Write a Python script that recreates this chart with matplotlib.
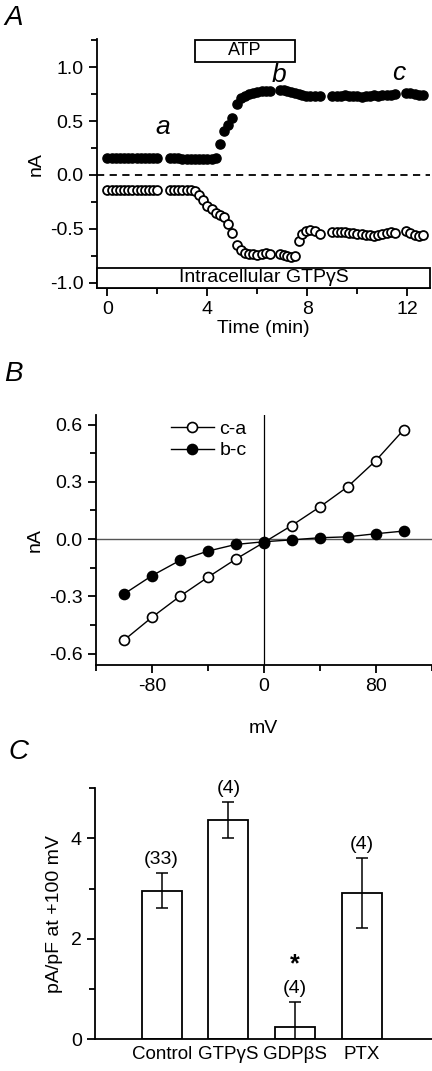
import matplotlib.pyplot as plt
from matplotlib.patches import Rectangle
from matplotlib.ticker import MultipleLocator

plt.rcParams['font.family'] = ['Liberation Sans', 'DejaVu Sans']
plt.rcParams['font.size'] = 14
plt.rcParams['axes.unicode_minus'] = False

# ---- panel A: time course (min), filled = outward, open = inward current (nA)
t_min = [0.0, 0.17, 0.33, 0.5, 0.67, 0.83, 1.0, 1.17, 1.33, 1.5, 1.67, 1.83, 2.0,
         2.5, 2.67, 2.83, 3.0, 3.17, 3.33, 3.5, 3.67, 3.83, 4.0, 4.17, 4.33,
         4.5, 4.67, 4.83, 5.0, 5.17, 5.33, 5.5, 5.67, 5.83, 6.0, 6.17, 6.33, 6.5,
         6.9, 7.05, 7.2, 7.35, 7.5, 7.65, 7.8, 7.95, 8.1, 8.3, 8.5,
         9.0, 9.17, 9.33, 9.5, 9.67, 9.83, 10.0, 10.17, 10.33, 10.5, 10.67, 10.83,
         11.0, 11.17, 11.33, 11.5,
         11.95, 12.12, 12.29, 12.46, 12.63]
i_out = [0.16, 0.16, 0.16, 0.16, 0.16, 0.16, 0.16, 0.16, 0.16, 0.16, 0.16, 0.16, 0.16,
         0.16, 0.16, 0.16, 0.15, 0.15, 0.15, 0.15, 0.15, 0.15, 0.15, 0.15, 0.16,
         0.29, 0.41, 0.46, 0.53, 0.66, 0.71, 0.73, 0.75, 0.76, 0.77, 0.78, 0.78, 0.78,
         0.79, 0.79, 0.78, 0.77, 0.76, 0.75, 0.74, 0.73, 0.73, 0.73, 0.73,
         0.73, 0.73, 0.73, 0.74, 0.73, 0.73, 0.73, 0.72, 0.73, 0.73, 0.74, 0.73,
         0.74, 0.74, 0.74, 0.75,
         0.76, 0.76, 0.75, 0.74, 0.74]
i_in = [-0.14, -0.14, -0.14, -0.14, -0.14, -0.14, -0.14, -0.14, -0.14, -0.14, -0.14, -0.14, -0.14,
        -0.14, -0.14, -0.14, -0.14, -0.14, -0.14, -0.15, -0.19, -0.23, -0.29, -0.32, -0.35,
        -0.37, -0.39, -0.46, -0.54, -0.65, -0.70, -0.72, -0.73, -0.73, -0.74, -0.73, -0.72, -0.73,
        -0.73, -0.74, -0.75, -0.76, -0.75, -0.61, -0.55, -0.52, -0.51, -0.52, -0.55,
        -0.53, -0.53, -0.53, -0.53, -0.54, -0.54, -0.55, -0.55, -0.56, -0.56, -0.57, -0.56,
        -0.55, -0.54, -0.53, -0.54,
        -0.52, -0.54, -0.56, -0.57, -0.56]

# ---- panel B: I-V difference curves
mv = [-100, -80, -60, -40, -20, 0, 20, 40, 60, 80, 100]
c_minus_a = [-0.53, -0.41, -0.30, -0.20, -0.105, -0.018, 0.071, 0.168, 0.274, 0.41, 0.572]
b_minus_c = [-0.288, -0.192, -0.112, -0.063, -0.028, -0.014, -0.004, 0.007, 0.012, 0.028, 0.042]

# ---- panel C: current density at +100 mV
groups = ['Control', 'GTP\u03b3S', 'GDP\u03b2S', 'PTX']
density = [2.96, 4.36, 0.25, 2.91]
sem = [0.35, 0.36, 0.50, 0.70]
n_cells = ['(33)', '(4)', '(4)', '(4)']

fig = plt.figure(figsize=(4.32, 10.71), dpi=100)


def style(ax):
    for s in ['top', 'right']:
        ax.spines[s].set_visible(False)
    for s in ['left', 'bottom']:
        ax.spines[s].set_linewidth(1.3)
    ax.tick_params(which='major', direction='out', length=6, width=1.3, labelsize=14)
    ax.tick_params(which='minor', direction='out', length=4, width=1.3)


# Panel A
axA = fig.add_axes([0.224, 0.731, 0.772, 0.2325])
style(axA)
axA.plot(t_min, i_out, 'o', ms=6.6, mfc='black', mec='black', mew=1.0, zorder=3)
axA.plot(t_min, i_in, 'o', ms=6.4, mfc='white', mec='black', mew=1.3, zorder=3)
axA.axhline(0, color='black', ls=(0, (4, 3)), lw=1.3)
axA.set_xlim(-0.42, 12.92)
axA.set_ylim(-1.05, 1.26)
axA.xaxis.set_major_locator(MultipleLocator(4))
axA.xaxis.set_minor_locator(MultipleLocator(2))
axA.yaxis.set_minor_locator(MultipleLocator(0.25))
axA.set_yticks([-1.0, -0.5, 0.0, 0.5, 1.0])
axA.set_yticklabels(['-1.0', '-0.5', '0.0', '0.5', '1.0'])
axA.set_xlabel('Time (min)', fontsize=14, labelpad=1)
axA.set_ylabel('nA', fontsize=14, labelpad=4)
axA.add_patch(Rectangle((3.5, 1.05), 4.0, 0.2, facecolor='white', edgecolor='black',
                        lw=1.3, zorder=4, clip_on=False))
axA.text(5.5, 1.15, 'ATP', ha='center', va='center', fontsize=13, zorder=5)
axA.add_patch(Rectangle((-0.42, -1.05), 13.34, 0.19, facecolor='white', edgecolor='black',
                        lw=1.3, zorder=4, clip_on=False))
axA.text(6.25, -0.955, 'Intracellular GTP\u03b3S', ha='center', va='center', fontsize=14, zorder=5)
axA.text(2.2, 0.44, 'a', style='italic', fontsize=19, ha='center', va='center')
axA.text(6.85, 0.93, 'b', style='italic', fontsize=19, ha='center', va='center')
axA.text(11.65, 0.95, 'c', style='italic', fontsize=19, ha='center', va='center')
fig.text(0.01, 0.983, 'A', style='italic', fontsize=20, va='center')

# Panel B
axB = fig.add_axes([0.222, 0.379, 0.777, 0.2335])
style(axB)
axB.axhline(0, color='#555555', lw=1.0, zorder=1)
axB.axvline(0, color='black', lw=0.9, zorder=1)
axB.plot(mv, c_minus_a, '-o', color='black', lw=1.0, ms=7.2, mfc='white', mec='black',
         mew=1.2, label='c-a', zorder=3)
axB.plot(mv, b_minus_c, '-o', color='black', lw=1.0, ms=7.2, mfc='black', mec='black',
         mew=1.2, label='b-c', zorder=3)
axB.set_xlim(-120, 120)
axB.set_ylim(-0.66, 0.65)
axB.xaxis.set_major_locator(MultipleLocator(80))
axB.xaxis.set_minor_locator(MultipleLocator(40))
axB.set_yticks([-0.6, -0.3, 0.0, 0.3, 0.6])
axB.yaxis.set_minor_locator(MultipleLocator(0.15))
axB.set_xlabel('mV', fontsize=14, labelpad=18)
axB.set_ylabel('nA', fontsize=14, labelpad=4)
axB.legend(loc='upper left', bbox_to_anchor=(0.2, 1.01), frameon=False, fontsize=14,
           handlelength=2.2, handletextpad=0.3, labelspacing=0.2, borderaxespad=0.0)
fig.text(0.01, 0.651, 'B', style='italic', fontsize=20, va='center')

# Panel C
axC = fig.add_axes([0.22, 0.0296, 0.779, 0.2344])
style(axC)
xpos = [1, 2, 3, 4]
axC.bar(xpos, density, width=0.6, color='white', edgecolor='black', lw=1.3, zorder=2)
axC.errorbar(xpos, density, yerr=sem, fmt='none', ecolor='black', elinewidth=1.1,
             capsize=4.5, capthick=1.1, zorder=3)
for x, d, e, n in zip(xpos, density, sem, n_cells):
    axC.text(x, d + e + 0.1, n, ha='center', va='bottom', fontsize=14)
axC.text(3, 0.75 + 0.5, '*', ha='center', va='bottom', fontsize=18, fontweight='bold')
axC.set_xlim(0, 5.05)
axC.set_ylim(0, 5.0)
axC.set_yticks([0, 2, 4])
axC.yaxis.set_minor_locator(MultipleLocator(1))
axC.set_xticks(xpos)
axC.set_xticklabels(groups, fontsize=13.5)
axC.tick_params(axis='x', length=0, pad=5)
axC.set_ylabel('pA/pF at +100 mV', fontsize=14, labelpad=6)
fig.text(0.02, 0.298, 'C', style='italic', fontsize=20, va='center')

fig.savefig('out.png', dpi=100)
